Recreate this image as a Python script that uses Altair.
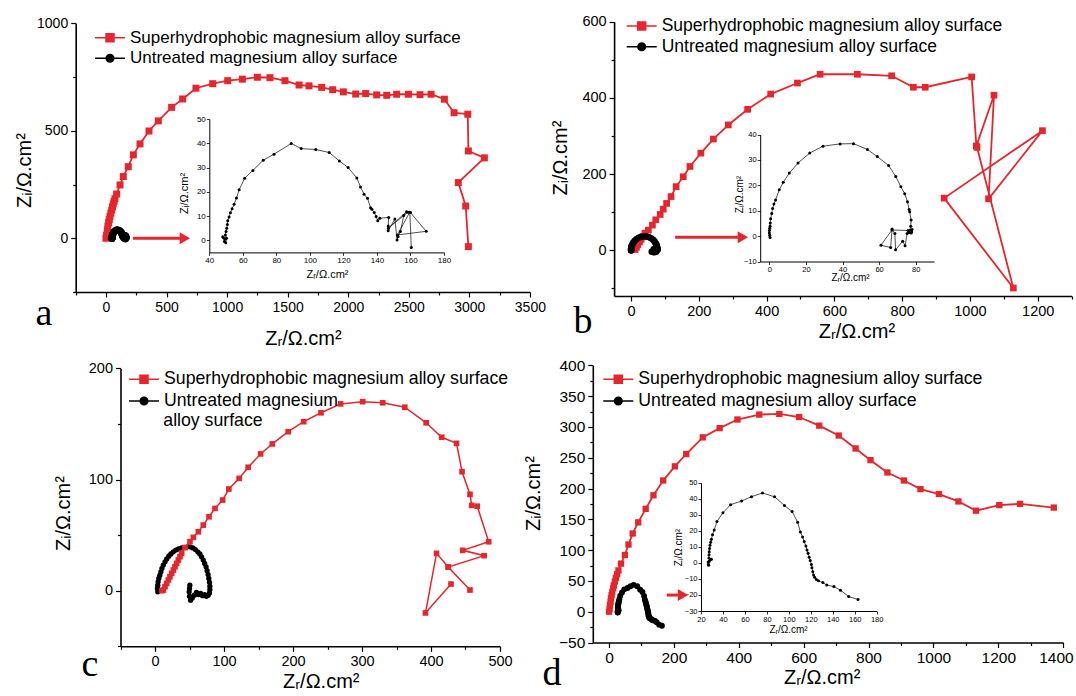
import altair as alt
import pandas as pd

RED = "#e5262d"
BLACK = "#000000"
SANS = "Liberation Sans"
SERIF = "Liberation Serif"
SUPER = "Superhydrophobic magnesium alloy surface"
UNTR = "Untreated magnesium alloy surface"
SERIES = [SUPER, UNTR]
X_TITLE = "Zᵣ/Ω.cm²"
Y_TITLE = "Zᵢ/Ω.cm²"
PANEL_LETTERS = ["a", "b", "c", "d"]

# ---------------- data ----------------
A_RED_ZR = [0, 5, 11, 16, 22, 27, 33, 40, 47, 54, 60, 67, 74, 88, 116, 143, 184, 226, 281, 355,
            432, 542, 633, 743, 881, 1005, 1126, 1250, 1354, 1478, 1594, 1676, 1781, 1872, 1960, 2062,
            2144, 2235, 2318, 2400, 2497, 2593, 2684, 2794, 2874, 2987, 2992, 3124, 2909, 2970, 2992]
A_RED_ZI = [0, 15, 39, 56, 73, 87, 101, 117, 132, 146, 160, 172, 184, 206, 248, 287, 333, 388, 439, 499,
            546, 609, 648, 698, 719, 733, 740, 749, 747, 733, 713, 709, 702, 691, 681, 671,
            673, 667, 665, 670, 670, 668, 670, 647, 584, 577, 406, 374, 259, 150, -39]
A_BLK_ZR = [48.0, 49.0, 49.5, 48.5, 49.8, 50.3, 49.6, 50.0, 50.4, 50.8, 51.0, 51.8, 52.6, 53.6, 54.8,
            56.2, 57.8, 61.1, 66.0, 72.2, 78.6, 88.9, 94.8, 103.5, 111.5, 117.6, 122.8, 128.0, 130.2,
            132.3, 134.4, 136.2, 137.0, 138.4, 139.5, 140.5, 141.7, 147.0, 146.7, 146.7, 150.7, 152.0,
            152.6, 154.0, 156.0, 157.7, 146.8, 158.5, 160.0, 169.4, 152.2, 159.6, 160.5]
A_BLK_ZI = [1.5, -0.5, 0.5, 1.0, -1.0, 0.8, 2.2, 3.6, 5.0, 6.5, 8.0, 9.6, 11.3, 13.0, 14.9,
            17.4, 20.8, 25.6, 28.8, 33.0, 35.5, 39.9, 37.8, 37.4, 36.2, 32.7, 30.0, 25.7, 22.0,
            19.0, 17.3, 13.4, 12.8, 11.4, 9.8, 8.1, 9.1, 9.4, 5.9, 3.9, 8.8, 0.1,
            1.5, 3.6, 10.2, 11.8, 5.0, 11.6, 11.4, 3.7, 2.2, 11.6, -3.0]

B_RED_ZR = [12, 16, 20, 25, 30, 36, 41, 51, 63, 73, 86, 95, 105, 118, 133, 154, 174, 206, 243, 287,
            344, 412, 491, 558, 668, 769, 833, 868, 1005, 1019, 1071, 1055, 1214, 924, 1128, 1021]
B_RED_ZI = [2, 8, 15, 22, 29, 36, 45, 53, 66, 80, 94, 108, 123, 141, 167, 193, 220, 255, 292, 329,
            370, 410, 439, 462, 462, 458, 428, 428, 455, 274, 407, 135, 314, 137, -99, 270]
B_BLK_ZR = [0.4, 0.2, 0.0, 0.0, 0.2, 0.4, 0.5, 0.7, 1.3, 1.8, 2.5, 3.4, 5.4, 7.6, 10.9, 15.7, 22.1,
            29.3, 38.7, 46.0, 53.6, 59.0, 65.2, 69.1, 71.9, 74.0, 75.5, 76.4, 76.7, 77.5, 77.3, 76.9,
            78.0, 77.8, 76.4, 75.3, 74.2, 72.9, 69.0, 68.6, 67.1, 66.3, 61.0, 67.0, 75.8, 77.5]
B_BLK_ZI = [-0.6, 0.3, 1.2, 2.2, 3.1, 3.9, 5.2, 6.8, 8.9, 10.9, 12.6, 14.2, 18.2, 21.2, 24.8, 28.8, 32.7,
            35.4, 36.3, 36.4, 34.1, 31.3, 27.8, 23.5, 19.4, 16.7, 13.5, 10.5, 9.6, 6.3, 3.9, 2.3,
            2.6, 1.6, 1.4, 1.0, -3.8, -2.0, -5.4, 1.0, 2.8, -4.5, -3.6, 2.4, 2.2, 1.2]

C_RED_ZR = [10, 12, 14.5, 16.9, 19.3, 21.7, 24.2, 26.6, 29, 31.4, 33.8, 36.2, 38.6, 43.5, 50.7, 55.6,
            62.8, 70, 78.3, 87, 98, 107, 122, 135, 153, 170, 193, 215.5, 240.6, 269, 301, 330, 362,
            393, 415.5, 437, 445, 456.5, 459, 467, 483.6, 446, 477, 425, 456.5, 425, 408, 392, 429]
C_RED_ZI = [0, 0.6, 3.6, 6.6, 9.6, 12.6, 15.6, 18.6, 21.6, 24.6, 27.6, 30.6, 33.6, 38.7, 44.1, 48,
            53, 59, 66.5, 74, 81.5, 91.4, 101, 111, 123, 132, 143, 152, 160, 168, 170, 169, 165,
            151, 138, 132.5, 107, 86.6, 76.7, 76, 44, 36.3, 31.5, 21.3, 0.6, 21.3, 33.6, -20, 6]
C_BLK_ZR = [4, 3.5, 4, 4.5, 5.5, 7, 8.5, 10, 12, 14.5, 17, 20, 23, 26.5, 30, 34, 38.5, 43, 47, 51,
            55, 58.5, 62, 65, 67.5, 70, 72, 74, 75.5, 77, 78, 79, 79.5, 79.5, 79, 77, 74.5, 72, 69, 66,
            63, 60, 57, 54, 51.5, 50, 49.5, 50, 50.5]
C_BLK_ZI = [-1, 2, 5, 8, 11, 14, 17, 20, 23, 26, 28.5, 31, 33, 35, 36.5, 37.5, 38.5, 39, 39.5, 39.5,
            38.5, 37, 35, 33, 30.5, 27.5, 24.5, 21.5, 18, 14.5, 11, 7.5, 4, 1, -2, -4, -5, -3.5, -4.5, -2.5,
            -3.5, -1.5, -4, -6.5, -8.5, -5, -1, 2, 5]

D_RED_ZR = [0, 2, 3, 5, 6, 8, 10, 13, 15, 18, 21, 25, 29, 37, 49, 60, 73, 90, 113, 137, 167, 203, 238,
            289, 341, 396, 463, 525, 586, 648, 708, 760, 806, 858, 909, 960, 1017, 1077, 1131, 1203,
            1267, 1371]
D_RED_ZI = [0, 5, 11, 16, 22, 27, 32, 38, 43, 49, 55, 61, 67, 78, 92, 109, 127, 145, 167, 189, 213, 236,
            256, 283, 298, 312, 320, 321, 316, 302, 286, 265, 246, 226, 213, 199, 191, 179, 164, 173,
            175, 169]
D_BLK_ZR = [26.5, 27.0, 26.8, 27.5, 28.5, 29.5, 27.2, 27.3, 27.5, 27.8, 28.2, 28.8, 29.5, 30.5, 32.0,
            34.5, 40.0, 47.0, 57.0, 66.0, 76.0, 87.0, 96.0, 103.0, 108.0, 110.5, 112.5, 114.0, 115.5,
            116.5, 117.5, 118.5, 119.5, 120.5, 121.0, 121.8, 122.5, 123.5, 125.0, 127.0, 131.0, 134.5,
            141.0, 147.0, 154.5, 163.0]
D_BLK_ZI = [0.5, -1.5, -0.8, 1.0, 2.0, 2.3, 3.0, 5.0, 7.0, 9.0, 11.0, 12.8, 14.8, 17.5, 20.5,
            25.8, 31.3, 36.3, 38.6, 41.3, 43.6, 41.2, 35.8, 32.0, 25.4, 19.3, 16.2, 13.3, 10.5,
            8.0, 6.0, 3.5, 1.5, -1.0, -3.0, -5.5, -7.5, -9.0, -10.3, -11.2, -12.3, -13.8,
            -14.8, -17.0, -21.0, -22.8]

# arrows pointing at the insets (start, end of shaft, head, height) in data units
A_ARROW = [223, 615, 651, 0]
B_ARROW = [130, 320, 330, 34]
D_ARROW = [178, 222, 228, 27]

SQ_PATH = "M-1.5,0H1.5M-0.4,-0.4H0.4V0.4H-0.4Z"
CI_PATH = "M-1.5,0H1.5M-0.38,0A0.38,0.38,0,1,0,0.38,0A0.38,0.38,0,1,0,-0.38,0Z"


def frame(xs, ys):
    return pd.DataFrame({"zr": xs, "zi": ys, "i": list(range(len(xs)))})


def sc(domain, rng):
    return alt.Scale(domain=domain, range=rng, nice=False, zero=False)


def main_axis(orient, offset, values, major, fs, tx, ty, flush=False, flush_off=0):
    left = orient == "left"
    return alt.Axis(
        orient=orient, offset=offset, values=values, format="d",
        labelExpr=f"datum.value % {major} === 0 ? datum.label : ''",
        tickSize={"condition": {"test": f"datum.value % {major} === 0", "value": 5}, "value": 3},
        tickWidth=1.2, tickColor="black", domainColor="black", domainWidth=1.6, grid=False,
        labelFont=SANS, labelFontSize=fs, labelColor="black", labelPadding=3,
        labelOverlap=False, labelFlush=flush, labelFlushOffset=flush_off,
        title=Y_TITLE if left else X_TITLE, titleFont=SANS, titleFontSize=20,
        titleFontWeight="normal", titleColor="black", titleX=tx, titleY=ty,
        titleBaseline="middle", titleAlign="center", titleAngle=270 if left else 0,
    )


def inset_axis(orient, offset, values, lfs, tfs, tx, ty):
    left = orient == "left"
    return alt.Axis(
        orient=orient, offset=offset, values=values, format="d",
        tickSize=3, tickWidth=0.8, tickColor="black", domainColor="black", domainWidth=1,
        grid=False, labelFont=SANS, labelFontSize=lfs, labelColor="black", labelPadding=1,
        labelOverlap=False, labelFlush=False,
        title=Y_TITLE if left else X_TITLE, titleFont=SANS, titleFontSize=tfs,
        titleFontWeight="normal", titleColor="black", titleX=tx, titleY=ty,
        titleBaseline="middle", titleAlign="center", titleAngle=270 if left else 0,
    )


def main_panel(sx, sy, ax, ay, red, blk, arrow, sq, ci, rw, black_on_top):
    X = alt.X("zr:Q", scale=sx, axis=ax)
    Y = alt.Y("zi:Q", scale=sy, axis=ay)
    O = alt.Order("i:Q")
    rl = alt.Chart(red).mark_line(color=RED, strokeWidth=rw).encode(x=X, y=Y, order=O)
    rp = alt.Chart(red).mark_point(shape="square", filled=True, color=RED, size=sq, opacity=1).encode(x=X, y=Y)
    bl = alt.Chart(blk).mark_line(color=BLACK, strokeWidth=1).encode(x=X, y=Y, order=O)
    bp = alt.Chart(blk).mark_point(shape="circle", filled=True, color=BLACK, size=ci, opacity=1).encode(x=X, y=Y)
    layers = [rl, rp, bl, bp] if black_on_top else [bl, bp, rl, rp]
    if arrow is not None:
        shaft = pd.DataFrame({"zr": [arrow[0]], "zr2": [arrow[1]], "zi": [arrow[3]]})
        head = pd.DataFrame({"zr": [arrow[2]], "zi": [arrow[3]]})
        layers.append(alt.Chart(shaft).mark_rule(color=RED, strokeWidth=3).encode(
            x=X, x2=alt.X2("zr2:Q"), y=Y))
        layers.append(alt.Chart(head).mark_point(shape="triangle-right", filled=True, color=RED,
                                                 size=144, opacity=1).encode(x=X, y=Y))
    return alt.layer(*layers)


def inset_panel(sx, sy, ax, ay, blk):
    X = alt.X("zr:Q", scale=sx, axis=ax)
    Y = alt.Y("zi:Q", scale=sy, axis=ay)
    line = alt.Chart(blk).mark_line(color="#222222", strokeWidth=0.8).encode(x=X, y=Y, order=alt.Order("i:Q"))
    pts = alt.Chart(blk).mark_point(shape="circle", filled=True, color=BLACK, size=9, opacity=1).encode(x=X, y=Y)
    return alt.layer(line, pts)


def legend_layer(lx, ly, fs, row_pad, label_expr=None):
    kw = dict(orient="none", legendX=lx, legendY=ly, title=None, labelFont=SANS, labelFontSize=fs,
              labelColor="black", labelLimit=600, symbolSize=400, symbolStrokeWidth=1.5,
              symbolFillColor="black", symbolStrokeColor="black",
              labelOffset=9, rowPadding=row_pad, padding=0)
    if label_expr:
        kw["labelExpr"] = label_expr
    L = alt.Legend(**kw)
    data = pd.DataFrame({"s": SERIES})
    return alt.Chart(data).mark_point(filled=True, opacity=0, size=400, strokeWidth=1.5).encode(
        fill=alt.Fill("s:N", scale=alt.Scale(domain=SERIES, range=[RED, BLACK]), legend=L),
        stroke=alt.Stroke("s:N", scale=alt.Scale(domain=SERIES, range=[RED, BLACK]), legend=L),
        shape=alt.Shape("s:N", scale=alt.Scale(domain=SERIES, range=[SQ_PATH, CI_PATH]), legend=L),
    )


def text_layer(t, x, y, font, size, align="center", baseline="alphabetic"):
    return alt.Chart(pd.DataFrame({"t": [t]})).mark_text(
        font=font, fontSize=size, align=align, baseline=baseline, color="black"
    ).encode(x=alt.value(x), y=alt.value(y), text="t:N")


H = 696

# ---------- panel a ----------
pa = main_panel(
    sc([-250, 3500], [75.7, 529.9]), sc([-250, 1000], [292.0, 23.3]),
    main_axis("bottom", -(H - 292.0), list(range(-250, 3501, 250)), 500, 14, 303, 46),
    main_axis("left", -75.7, list(range(-250, 1001, 250)), 500, 14, -50.7, 170),
    frame(A_RED_ZR, A_RED_ZI), frame(A_BLK_ZR, A_BLK_ZI), A_ARROW, 49, 50, 1.8, True)
ia = inset_panel(
    sc([40, 180], [209.3, 444]), sc([-5, 50], [252.4, 119]),
    inset_axis("bottom", -(H - 252.4), list(range(40, 181, 20)), 8, 11, 327, 22),
    inset_axis("left", -209.3, list(range(0, 51, 10)), 8, 11, -25.3, 193),
    frame(A_BLK_ZR, A_BLK_ZI))

# ---------- panel b ----------
pb = main_panel(
    sc([-50, 1300], [614.1, 1071.6]), sc([-120, 600], [296.0, 21.7]),
    main_axis("bottom", -(H - 296.0), list(range(0, 1301, 100)), 200, 14.5, 856.5, 35),
    main_axis("left", -614.1, list(range(-100, 601, 100)), 200, 14.5, -54.1, 157.5),
    frame(B_RED_ZR, B_RED_ZI), frame(B_BLK_ZR, B_BLK_ZI), B_ARROW, 45, 42, 1.8, True)
ib = inset_panel(
    sc([-5, 90], [760.2, 934]), sc([-10, 40], [261.5, 134.5]),
    inset_axis("bottom", -(H - 261.5), list(range(0, 81, 20)), 7.5, 10, 850, 16),
    inset_axis("left", -760.2, list(range(-10, 41, 10)), 7.5, 10, -21, 194),
    frame(B_BLK_ZR, B_BLK_ZI))

# ---------- panel c ----------
pc = main_panel(
    sc([-50, 500], [120.5, 500.0]), sc([-50, 200], [646.3, 368.3]),
    main_axis("bottom", -(H - 646.3), list(range(-50, 501, 50)), 100, 14.5, 320.8, 35.4),
    main_axis("left", -120.5, list(range(-50, 201, 50)), 100, 14.5, -57.5, 513),
    frame(C_RED_ZR, C_RED_ZI), frame(C_BLK_ZR, C_BLK_ZI), None, 32, 28, 1.5, False)

# ---------- panel d ----------
pd_ = main_panel(
    sc([-50, 1400], [592.8, 1063.2]), sc([-50, 400], [642.5, 365.3]),
    main_axis("bottom", -(H - 642.5), list(range(0, 1401, 100)), 200, 15.5, 821.7, 35,
              flush=True, flush_off=10),
    main_axis("left", -592.8, list(range(-50, 401, 25)), 50, 15.5, -59.8, 493),
    frame(D_RED_ZR, D_RED_ZI), frame(D_BLK_ZR, D_BLK_ZI), D_ARROW, 40, 35, 1.8, True)
id_ = inset_panel(
    sc([20, 180], [701, 876.7]), sc([-30, 50], [611, 482.7]),
    inset_axis("bottom", -(H - 611), list(range(20, 181, 20)), 7.5, 10, 788, 18),
    inset_axis("left", -701, list(range(-30, 51, 10)), 7.5, 10, -23, 547),
    frame(D_BLK_ZR, D_BLK_ZI))

legends = [
    legend_layer(99, 26.7, 17, 1.6),
    legend_layer(630.7, 15, 17.5, 0.7),
    legend_layer(133, 368.3, 17.7, 1.7,
                 "datum.label == 'Untreated magnesium alloy surface' ? 'Untreated magnesium' : datum.label"),
    legend_layer(607.3, 368.3, 17.7, 1.7),
]

texts = [
    text_layer(PANEL_LETTERS[0], 44, 325, SERIF, 38),
    text_layer(PANEL_LETTERS[1], 583, 333, SERIF, 38),
    text_layer(PANEL_LETTERS[2], 90, 676, SERIF, 38),
    text_layer(PANEL_LETTERS[3], 552, 685, SERIF, 38),
    text_layer("alloy surface", 163.3, 421, SANS, 17.7, align="left", baseline="middle"),
]

chart = alt.layer(pa, ia, pb, ib, pc, pd_, id_, *legends, *texts).resolve_scale(
    x="independent", y="independent", fill="independent", stroke="independent", shape="independent"
).resolve_axis(x="independent", y="independent").resolve_legend(
    fill="independent", stroke="independent", shape="independent"
).properties(
    width=1076, height=696, padding=0, autosize=alt.AutoSizeParams(type="none"), background="white"
).configure_view(strokeWidth=0)

chart.save("out.html", embed_options={"renderer": "svg", "actions": False})
